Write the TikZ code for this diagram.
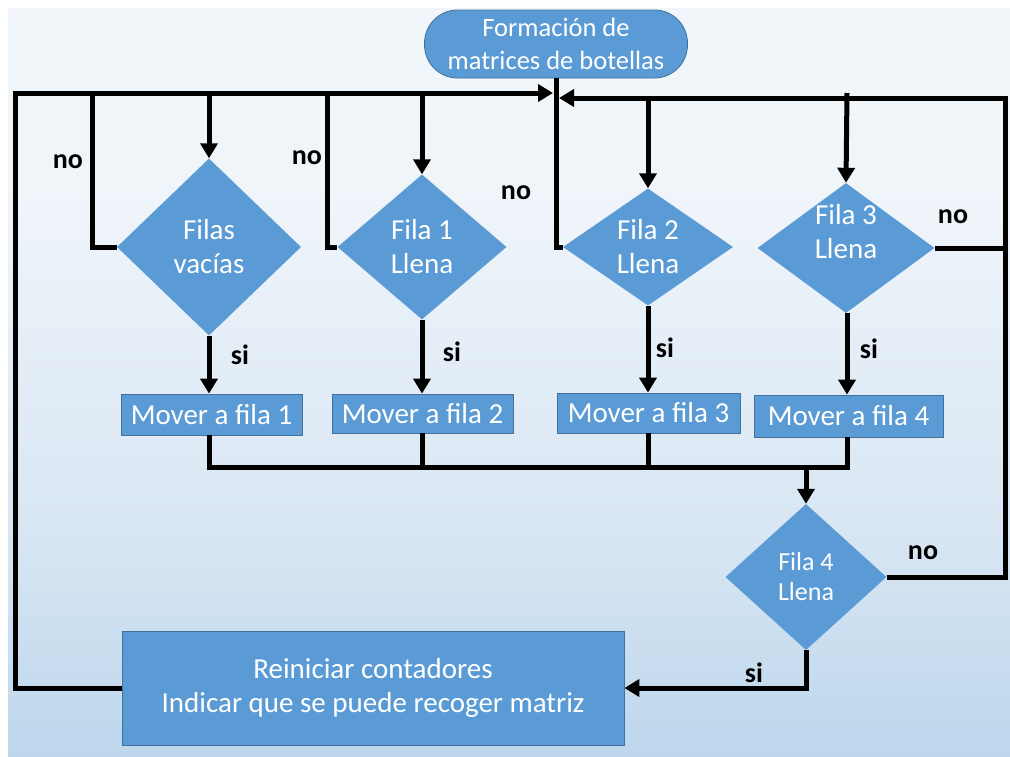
\documentclass[tikz,border=0pt]{standalone}
\usepackage{fontspec}
\setmainfont{Carlito}
\usetikzlibrary{shapes.geometric,arrows.meta}

\definecolor{boxblue}{HTML}{5B9BD5}
\definecolor{boxedge}{HTML}{41719C}
\definecolor{bgA}{HTML}{C6DAEF}
\definecolor{bgB}{HTML}{B4D1EA}
\definecolor{bgC}{HTML}{D8E6F3}
\definecolor{bgD}{HTML}{F0F5FA}
\definecolor{bgE}{HTML}{F5F9FC}
\pgfdeclareverticalshading{panelshade}{100bp}{%
  color(0bp)=(bgA); color(20bp)=(bgB); color(40bp)=(bgC);
  color(63bp)=(bgD); color(100bp)=(bgE)}

\begin{document}
\begin{tikzpicture}[x=1pt,y=-1pt,
  txt/.style={text=white,align=center,font=\fontsize{29}{34}\selectfont},
  term/.style={txt,font=\fontsize{26.5}{33}\selectfont,rectangle,rounded corners=33pt,
    fill=boxblue,draw=boxedge,line width=0.8pt,
    minimum width=263pt,minimum height=68pt,inner sep=0pt},
  proc/.style={txt,rectangle,fill=boxblue,draw=boxedge,line width=0.8pt,inner sep=0pt},
  dia/.style={diamond,fill=boxblue,draw=none,inner sep=0pt},
  flow/.style={line width=5pt,line join=miter,draw=black},
  arr/.style={-{Triangle[length=15pt,width=17pt]}},
  lbl/.style={font=\bfseries\fontsize{28}{30}\selectfont,text=black}]

\useasboundingbox (0,0) rectangle (1010,756);
\fill[shading=panelshade] (8,8) rectangle (1010,756);

% start terminal
\node[term] (start) at (556,44) {Formación de\\matrices de botellas};

% decisions
\node[dia,minimum width=184pt,minimum height=177pt,
  label={[txt]center:{Filas\\vacías}}] (d0) at (209,247) {};
\node[dia,minimum width=169pt,minimum height=145pt,
  label={[txt]center:{Fila 1\\Llena}}] (d1) at (422,247) {};
\node[dia,minimum width=170pt,minimum height=117pt,
  label={[txt]center:{Fila 2\\Llena}}] (d2) at (648,247) {};
\node[dia,minimum width=177pt,minimum height=130pt,
  label={[txt,yshift=16pt]center:{Fila 3\\Llena}}] (d3) at (846,248) {};
\node[dia,minimum width=161pt,minimum height=146pt,
  label={[txt,font=\fontsize{26}{30}\selectfont]center:{Fila 4\\Llena}}] (d4) at (806,577) {};

% actions
\node[proc,minimum width=181pt,minimum height=41pt] (m1) at (211.5,414.5) {Mover a fila 1};
\node[proc,minimum width=181pt,minimum height=39pt] (m2) at (422.5,413.5) {Mover a fila 2};
\node[proc,minimum width=183pt,minimum height=40pt] (m3) at (648.5,413) {Mover a fila 3};
\node[proc,minimum width=189pt,minimum height=42pt] (m4) at (848.5,416) {Mover a fila 4};
\node[proc,minimum width=502pt,minimum height=114pt] (reset) at (373,688)
  {Reiniciar contadores\\Indicar que se puede recoger matriz};

% junction points
\coordinate (lcorner) at (15,688);
\coordinate (ltop) at (15,93);
\coordinate (tipL) at (553,93);
\coordinate (tipR) at (559,98);
\coordinate (rtop) at (1005,98);
\coordinate (rmid) at (1005,248);
\coordinate (rbot) at (1005,577);
\coordinate (a0) at (92,93);
\coordinate (b0) at (209,93);
\coordinate (a1) at (327,93);
\coordinate (b1) at (422,93);
\coordinate (b2) at (648,98);
\coordinate (b3) at (847,93);
\coordinate (busL) at (209,467);
\coordinate (busM) at (806,467);

% return path on the left
\draw[flow,arr] (reset.west) -- (lcorner) -- (ltop) -- (tipL);
\draw[flow] (a0) |- (d0.west);
\draw[flow,arr] (b0) -- (d0.north);
\draw[flow] (a1) |- (d1.west);
\draw[flow,arr] (b1) -- (d1.north);
\draw[flow] (start.south) |- (d2.west);

% return path on the right
\draw[flow,arr] (d4.east) -- (rbot) -- (rtop) -- (tipR);
\draw[flow] (d3.east) -- (rmid);
\draw[flow,arr] (b2) -- (d2.north);
\draw[flow,arr] (b3) -- (d3.north);

% yes branches
\draw[flow,arr] (d0.south) -- (d0.south |- m1.north);
\draw[flow,arr] (d1.south) -- (d1.south |- m2.north);
\draw[flow,arr] (d2.south) -- (d2.south |- m3.north);
\draw[flow,arr] (d3.south -| b3) -- (b3 |- m4.north);

% collecting bus
\draw[flow] (m1.south -| busL) -- (busL) -- (busM);
\draw[flow] (m2.south -| b1) -- (422,465);
\draw[flow] (m3.south -| b2) -- (648,467);
\draw[flow] (m4.south -| b3) |- (busM);
\draw[flow,arr] (busM) -- (d4.north);
\draw[flow,arr] (d4.south) |- (reset.east);

% branch labels
\node[lbl] at (68,162) {no};
\node[lbl] at (307,158) {no};
\node[lbl] at (516,193) {no};
\node[lbl] at (953,217) {no};
\node[lbl] at (923,553) {no};
\node[lbl] at (240,355) {si};
\node[lbl] at (452,352) {si};
\node[lbl] at (665,348) {si};
\node[lbl] at (869,349) {si};
\node[lbl] at (754,673) {si};
\end{tikzpicture}
\end{document}
